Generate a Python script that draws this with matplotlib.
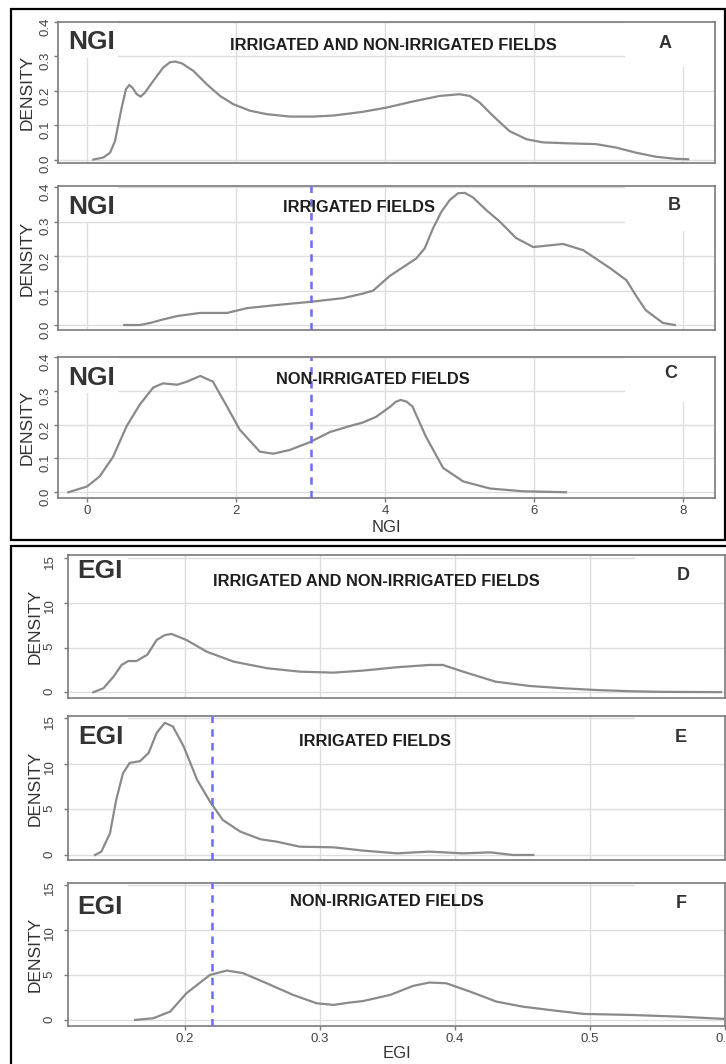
import numpy as np
import matplotlib
matplotlib.use("Agg")
import matplotlib.pyplot as plt
from matplotlib.patches import Rectangle

plt.rcParams['font.family'] = ['Liberation Sans', 'DejaVu Sans']

# ---- data ----
ngi_ticks = [0, 2, 4, 6, 8]
ngi_yticks = [0.0, 0.1, 0.2, 0.3, 0.4]
ngi_ylabels = ['0.0', '0.1', '0.2', '0.3', '0.4']
egi_ticks = [0.2, 0.3, 0.4, 0.5, 0.6]
egi_xlabels = ['0.2', '0.3', '0.4', '0.5', '0.6']
egi_yticks = [0, 5, 10, 15]
egi_ylabels = ['0', '5', '10', '15']

ngi_cut = 3.0
egi_cut = 0.22

# A: NGI, all fields
a_x = [0.085, 0.219, 0.309, 0.376, 0.42, 0.465, 0.523, 0.568, 0.613, 0.667, 0.72, 0.778,
       0.89, 1.024, 1.114, 1.181, 1.271, 1.427, 1.607, 1.785, 1.964, 2.188, 2.412, 2.725,
       3.038, 3.306, 3.53, 3.705, 4.018, 4.376, 4.734, 5.0, 5.138, 5.27, 5.45, 5.67, 5.9,
       6.12, 6.48, 6.83, 7.1, 7.37, 7.64, 7.91, 8.07]
a_y = [0.0, 0.006, 0.020, 0.054, 0.103, 0.151, 0.205, 0.217, 0.208, 0.190, 0.183, 0.195,
       0.229, 0.268, 0.283, 0.285, 0.280, 0.258, 0.219, 0.185, 0.161, 0.142, 0.132, 0.125,
       0.125, 0.128, 0.134, 0.139, 0.151, 0.169, 0.185, 0.190, 0.185, 0.166, 0.127, 0.083, 0.059,
       0.050, 0.047, 0.045, 0.035, 0.020, 0.008, 0.002, 0.001]

# B: NGI, irrigated
b_x = [0.50, 0.71, 0.85, 1.0, 1.21, 1.52, 1.88, 2.15, 2.55, 2.99, 3.44, 3.7, 3.839, 4.063,
       4.287, 4.42, 4.532, 4.644, 4.756, 4.868, 4.98, 5.07, 5.18, 5.36, 5.54, 5.76, 5.99,
       6.39, 6.66, 7.02, 7.24, 7.37, 7.5, 7.73, 7.89]
b_y = [0.0, 0.0, 0.006, 0.015, 0.026, 0.035, 0.035, 0.049, 0.058, 0.067, 0.078, 0.091, 0.0995, 0.142,
       0.174, 0.193, 0.222, 0.280, 0.328, 0.362, 0.382, 0.383, 0.37, 0.333, 0.30, 0.252, 0.226,
       0.235, 0.217, 0.165, 0.13, 0.085, 0.043, 0.006, 0.0]

# C: NGI, non-irrigated
c_x = [-0.25, 0.0, 0.17, 0.35, 0.53, 0.71, 0.89, 1.02, 1.21, 1.34, 1.52, 1.69, 1.88, 2.05,
       2.32, 2.5, 2.72, 2.99, 3.26, 3.53, 3.7, 3.88, 4.07, 4.14, 4.21, 4.29, 4.37, 4.55, 4.78,
       5.05, 5.41, 5.85, 6.43]
c_y = [0.0, 0.017, 0.047, 0.105, 0.195, 0.26, 0.31, 0.322, 0.318, 0.327, 0.344, 0.327, 0.253, 0.185,
       0.12, 0.114, 0.125, 0.148, 0.178, 0.196, 0.206, 0.223, 0.253, 0.267, 0.273, 0.268, 0.253, 0.164,
       0.072, 0.032, 0.011, 0.003, 0.0]

# D: EGI, all fields
d_x = [0.132, 0.1395, 0.147, 0.153, 0.158, 0.164, 0.172, 0.179, 0.185, 0.190, 0.201, 0.216,
       0.236, 0.261, 0.285, 0.31, 0.332, 0.3565, 0.381, 0.391, 0.406, 0.430, 0.455, 0.48,
       0.504, 0.529, 0.554, 0.597]
d_y = [0.0, 0.45, 1.75, 3.06, 3.5, 3.5, 4.2, 5.86, 6.4, 6.53, 5.86, 4.55,
       3.43, 2.69, 2.31, 2.2, 2.43, 2.8, 3.06, 3.06, 2.31, 1.19, 0.71, 0.45,
       0.26, 0.12, 0.05, 0.02]

# E: EGI, irrigated
e_x = [0.1333, 0.138, 0.1444, 0.149, 0.154, 0.159, 0.1667, 0.173, 0.179, 0.185, 0.191, 0.199,
       0.209, 0.2185, 0.228, 0.241, 0.256, 0.268, 0.285, 0.31, 0.332, 0.357, 0.381, 0.406,
       0.426, 0.443, 0.458]
e_y = [0.0, 0.37, 2.38, 6.04, 8.96, 10.1, 10.3, 11.2, 13.4, 14.5, 14.1, 11.9,
       8.23, 5.85, 3.84, 2.56, 1.72, 1.46, 0.91, 0.84, 0.48, 0.18, 0.37, 0.18,
       0.29, 0.0, 0.0]

# F: EGI, non-irrigated
f_x = [0.163, 0.1765, 0.189, 0.201, 0.2185, 0.231, 0.243, 0.2605, 0.28, 0.2975, 0.31, 0.322,
       0.332, 0.352, 0.369, 0.381, 0.3935, 0.411, 0.4306, 0.450, 0.470, 0.495, 0.529, 0.566, 0.6]
f_y = [0.0, 0.19, 0.93, 2.96, 5.0, 5.48, 5.19, 4.07, 2.78, 1.85, 1.67, 1.93,
       2.1, 2.78, 3.78, 4.15, 4.07, 3.15, 2.04, 1.48, 1.11, 0.67, 0.56, 0.37, 0.11]

W, H = 726, 1064
fig = plt.figure(figsize=(W / 100, H / 100), dpi=100)


def fx(px):
    return px / W


def fy(py):
    return 1 - py / H


def make_ax(l, r, t, b):
    return fig.add_axes([fx(l), fy(b), fx(r) - fx(l), fy(t) - fy(b)])


panels = [
    dict(box=(58, 715, 22, 163), x=a_x, y=a_y, ylim=(-0.01, 0.40), cut=None, kind='ngi',
         title='IRRIGATED AND NON-IRRIGATED FIELDS', tpos=(393, 45), letter='A', lpos=(665, 43),
         npos=(68, 42), xaxis=False),
    dict(box=(58, 715, 186, 330), x=b_x, y=b_y, ylim=(-0.0145, 0.403), cut=ngi_cut, kind='ngi',
         title='IRRIGATED FIELDS', tpos=(359, 207), letter='B', lpos=(674, 206),
         npos=(68, 207), xaxis=False),
    dict(box=(58, 715, 357, 498), x=c_x, y=c_y, ylim=(-0.017, 0.40), cut=ngi_cut, kind='ngi',
         title='NON-IRRIGATED FIELDS', tpos=(373, 379), letter='C', lpos=(671, 374),
         npos=(68, 378), xaxis=True),
    dict(box=(68, 725, 555, 698), x=d_x, y=d_y, ylim=(-0.64, 15.37), cut=None, kind='egi',
         title='IRRIGATED AND NON-IRRIGATED FIELDS', tpos=(376, 582), letter='D', lpos=(683, 576),
         npos=(77, 571), xaxis=False),
    dict(box=(68, 725, 716, 860), x=e_x, y=e_y, ylim=(-0.55, 15.25), cut=egi_cut, kind='egi',
         title='IRRIGATED FIELDS', tpos=(375, 742), letter='E', lpos=(681, 738),
         npos=(78, 737), xaxis=False),
    dict(box=(68, 725, 883, 1026), x=f_x, y=f_y, ylim=(-0.67, 15.19), cut=egi_cut, kind='egi',
         title='NON-IRRIGATED FIELDS', tpos=(387, 902), letter='F', lpos=(681, 904),
         npos=(77, 907), xaxis=True),
]

grid_c = '#dedede'
frame_c = '#7a7a7a'
curve_c = '#8a8a8a'
text_c = '#333333'

for p in panels:
    l, r, t, b = p['box']
    ax = make_ax(l, r, t, b)
    if p['kind'] == 'ngi':
        ax.set_xlim(-0.39, 8.43)
        xt, yt, yl, name = ngi_ticks, ngi_yticks, ngi_ylabels, 'NGI'
        ypad = 2
        dens_x = 27
    else:
        ax.set_xlim(0.1133, 0.6)
        xt, yt, yl, name = egi_ticks, egi_yticks, egi_ylabels, 'EGI'
        ypad = 6
        dens_x = 35
    ax.set_ylim(*p['ylim'])
    ax.set_xticks(xt)
    ax.set_yticks(yt)
    ax.set_yticklabels(yl)
    ax.grid(True, color=grid_c, lw=1.0)
    ax.set_axisbelow(True)
    for s in ax.spines.values():
        s.set_color(frame_c)
        s.set_linewidth(1.2)
    ax.tick_params(axis='y', direction='out', length=3, width=1, color=frame_c,
                   labelsize=9.5, labelcolor='#444444', labelrotation=90, pad=ypad)
    if p['xaxis']:
        ax.tick_params(axis='x', direction='out', length=3, width=1, color=frame_c,
                       labelsize=9.5, labelcolor='#444444', pad=2)
        if p['kind'] == 'egi':
            ax.set_xticklabels(egi_xlabels)
    else:
        ax.tick_params(axis='x', length=0, labelbottom=False)

    # white boxes behind the corner labels
    ax.add_patch(Rectangle((fx(l), fy(t + 36)), fx(l + 60) - fx(l), fy(t) - fy(t + 36),
                           transform=fig.transFigure, facecolor='white', edgecolor='none',
                           zorder=1.5))
    ax.add_patch(Rectangle((fx(r - 90), fy(t + 45)), fx(r) - fx(r - 90), fy(t) - fy(t + 45),
                           transform=fig.transFigure, facecolor='white', edgecolor='none',
                           zorder=1.5))

    ax.plot(p['x'], p['y'], color=curve_c, lw=1.6, zorder=3, solid_joinstyle='round')
    if p['cut'] is not None:
        ax.axvline(p['cut'], color='#6b6bff', lw=1.8, ls=(0, (3, 2.5)), zorder=4)

    fig.text(fx(p['npos'][0]), fy(p['npos'][1]), name, fontsize=19, fontweight='bold',
             color=text_c, ha='left', va='center', zorder=5)
    fig.text(fx(p['tpos'][0]), fy(p['tpos'][1]), p['title'], fontsize=11.8, fontweight='bold',
             color='#1e1e1e', ha='center', va='center', zorder=5)
    fig.text(fx(p['lpos'][0]), fy(p['lpos'][1]), p['letter'], fontsize=13, fontweight='bold',
             color=text_c, ha='center', va='center', zorder=5)
    fig.text(fx(dens_x), fy((t + b) / 2), 'DENSITY', fontsize=12.5, color=text_c,
             rotation=90, ha='center', va='center')

fig.text(fx(386), fy(527), 'NGI', fontsize=12, color=text_c, ha='center', va='center')
fig.text(fx(397), fy(1053), 'EGI', fontsize=12, color=text_c, ha='center', va='center')

# outer frames of the two groups
fig.add_artist(Rectangle((fx(11), fy(540)), fx(725) - fx(11), fy(9) - fy(540),
                         transform=fig.transFigure, fill=False, edgecolor='black', lw=1.6))
fig.add_artist(Rectangle((fx(11), fy(1070)), fx(740) - fx(11), fy(546) - fy(1070),
                         transform=fig.transFigure, fill=False, edgecolor='black', lw=1.6))

fig.savefig('out.png', dpi=100)
